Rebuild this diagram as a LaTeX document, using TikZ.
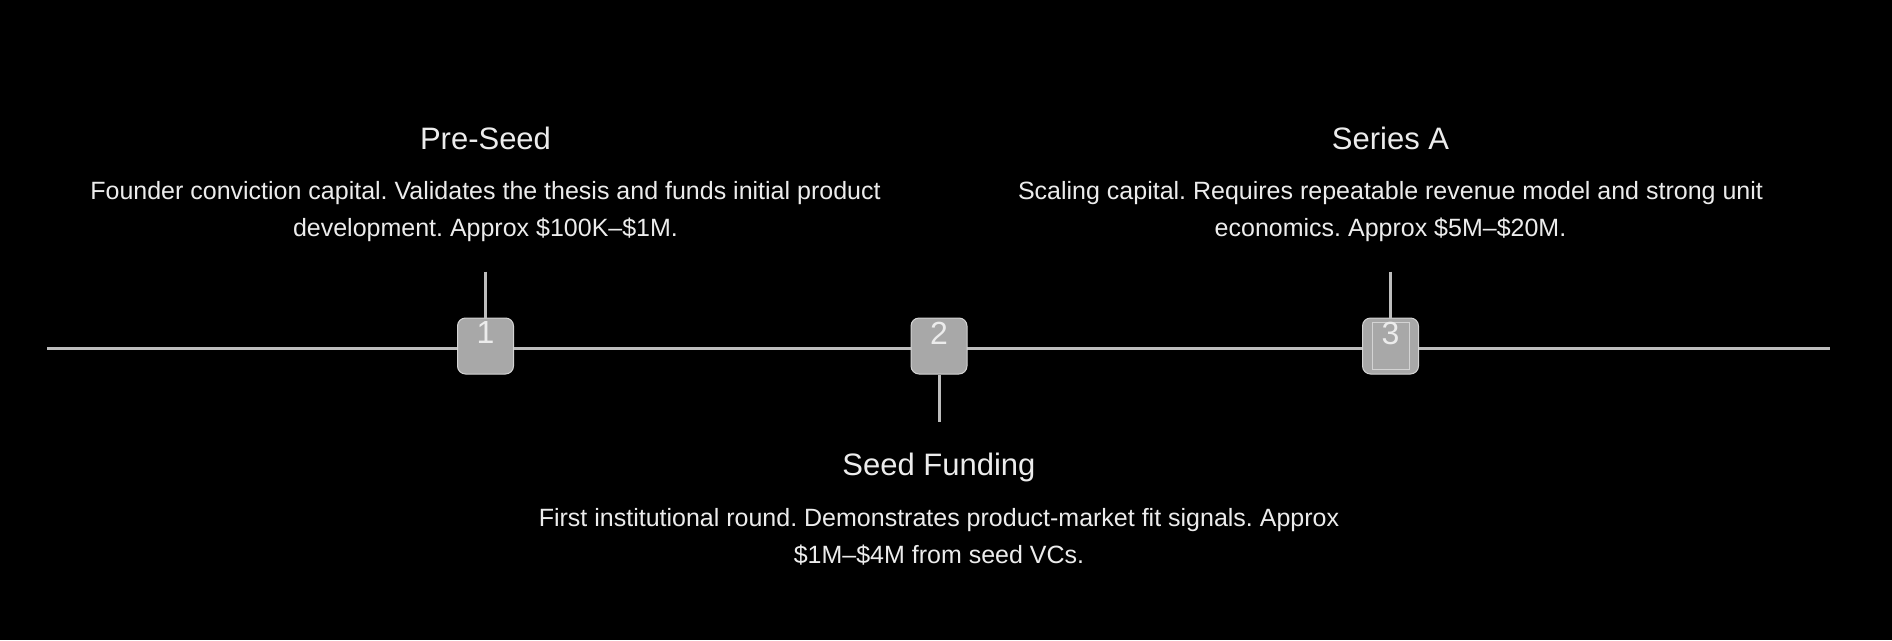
\documentclass[tikz,border=0pt]{standalone}
\usepackage{fontspec}
\setmainfont{Liberation Sans}
\usetikzlibrary{positioning}
\definecolor{rulegray}{HTML}{BDBDBD}
\definecolor{boxfill}{HTML}{A8A8A8}
\definecolor{boxline}{HTML}{D4D4D4}
\definecolor{textwhite}{HTML}{ECECEC}
\frenchspacing
\tikzset{
  stage/.style     = {rectangle, rounded corners=8pt, fill=boxfill, draw=boxline,
                      line width=1pt, minimum width=56pt, minimum height=56pt, inner sep=0pt},
  stage-num/.style = {text=textwhite, inner sep=0pt, font=\fontsize{32}{32}\selectfont},
  title/.style     = {text=textwhite, inner sep=0pt, font=\fontsize{31}{31}\selectfont},
  blurb/.style     = {text=textwhite, inner sep=0pt, align=center, font=\fontsize{25}{37}\selectfont},
  tick/.style      = {draw=rulegray, line width=3pt},
}

\begin{document}
\begin{tikzpicture}
  [
    x = 1pt,
    y = -1pt
  ]
  \fill[black] (0,0) rectangle (1892,640);
  \useasboundingbox (0,0) rectangle (1892,640);

  % timeline
  \coordinate (start) at (47,348);
  \coordinate (end) at (1830,348);
  \draw[tick] (start) -- (end);

  % stages
  \node [stage] (s1) at (485.5,346) {};
  \node [stage] (s2) at (939,346) {};
  \node [stage] (s3) at (1390.5,346) {};
  \coordinate [above=46pt of s1.north] (s1top);
  \coordinate [below=47pt of s2.south] (s2bot);
  \coordinate [above=46pt of s3.north] (s3top);
  \draw[tick] (s1top) -- (s1.north);
  \draw[tick] (s2.south) -- (s2bot);
  \draw[tick] (s3top) -- (s3.north);
  \node [draw=boxline, line width=1pt, minimum width=37pt, minimum height=47pt,
         inner sep=0pt, below=4pt of s3.north] (s3frame) {};
  \node [stage-num, below=4pt of s1.north] (n1) {1};
  \node [stage-num, below=4pt of s2.north] (n2) {2};
  \node [stage-num, below=4pt of s3.north] (n3) {3};

  % labels
  \node [title, anchor=base] (t1) at (485.5,149) {Pre-Seed};
  \node [blurb, below=32pt of t1.base] (d1)
    {Founder conviction capital. Validates the thesis and funds initial product\\
     development. Approx \$100K–\$1M.};
  \node [title, anchor=base] (t2) at (939,475.7) {Seed Funding};
  \node [blurb, below=32pt of t2.base] (d2)
    {First institutional round. Demonstrates product-market fit signals. Approx\\
     \$1M–\$4M from seed VCs.};
  \node [title, anchor=base] (t3) at (1390.5,149) {Series A};
  \node [blurb, below=32pt of t3.base] (d3)
    {Scaling capital. Requires repeatable revenue model and strong unit\\
     economics. Approx \$5M–\$20M.};
\end{tikzpicture}
\end{document}
